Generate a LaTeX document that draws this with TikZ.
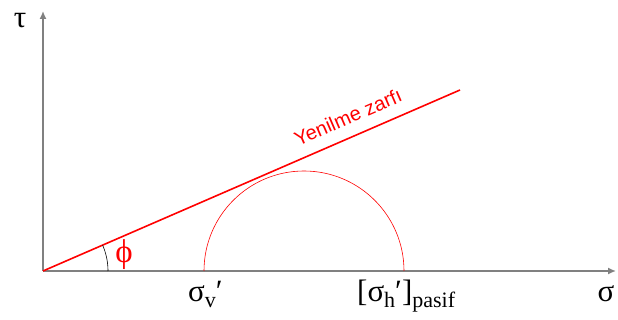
\documentclass[tikz,border=0pt]{standalone}
\usepackage{fontspec}
\setmainfont{Liberation Serif}
\newfontfamily\arialf{Liberation Sans}
\usetikzlibrary{arrows.meta}
\newcommand{\subtxt}[1]{\raisebox{-6pt}{\fontsize{22}{22}\selectfont #1}}
\tikzset{
  axis/.style={draw=gray, line width=1.5pt, -{Latex[length=8pt,width=7pt]}},
  envelope/.style={draw=red, line width=1.6pt},
  mohr/.style={draw=red, line width=0.6pt},
  lbl/.style={inner sep=0pt, font=\fontsize{31}{31}\selectfont},
}
\begin{document}
\begin{tikzpicture}[x=1pt,y=1pt]
\useasboundingbox (0,0) rectangle (618,320);
\coordinate (O) at (43,49);
\coordinate (ytop) at (43,309);
\coordinate (xend) at (616,49);
\coordinate (E) at (460,230);
\coordinate (C) at (304,49);
\draw[axis] (O) -- (ytop);
\draw[axis] (O) -- (xend);
\draw[envelope] (O) -- (E);
\draw[mohr] (404,49) arc[start angle=0, end angle=180, radius=100];
\draw[black, line width=0.6pt] (108,49) arc[start angle=0, end angle=23.5, radius=65];
\node[inner sep=0pt, text=red, font=\fontsize{33}{33}\selectfont] (phi) at (124,65) {ϕ};
\node[inner sep=0pt, text=red, rotate=23.5, font=\arialf\fontsize{20}{20}\selectfont] (env) at (348,203) {Yenilme zarfı};
\node[lbl] (tau) at (20,299) {τ};
\node[lbl, anchor=base] (sig) at (606,18) {σ};
\node[lbl, anchor=base west] (sv) at (188,18) {σ\subtxt{v}′};
\node[lbl, anchor=base west] (sh) at (357,18) {[σ\subtxt{h}′]\subtxt{pasif}};
\end{tikzpicture}
\end{document}
